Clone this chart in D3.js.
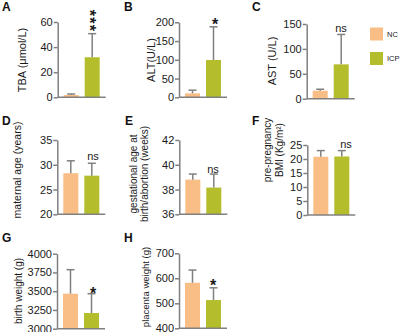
<html>
<head>
<meta charset="utf-8">
<script src="https://d3js.org/d3.v7.min.js"></script>
<style>
  body { margin: 0; background: #fff; }
  text { font-family: Arial, "Liberation Sans", sans-serif; }
</style>
</head>
<body>
<script>
// groups
var groups = ["NC", "ICP"];

// mean values (NC, ICP) and upper error bar ends
var tbaMean = [1.8, 31.9],    tbaErr = [2.6, 50.7];
var altMean = [10.6, 99.5],   altErr = [19, 188];
var astMean = [16, 69],       astErr = [19, 129];
var ageMean = [28.3, 27.8],   ageErr = [30.8, 30.3];
var gestMean = [38.8, 38.16], gestErr = [39.25, 39.25];
var bmiMean = [20.8, 20.9],   bmiErr = [23, 23];
var bwMean = [3467, 3209],    bwErr = [3787, 3467];
var pwMean = [582, 513],      pwErr = [633, 562];

// tick labels
var tbaTicks = [0, 20, 40, 60];
var altTicks = [0, 50, 100, 150, 200];
var astTicks = [0, 50, 100, 150];
var ageTicks = [20, 25, 30, 35];
var gestTicks = [36, 38, 40, 42];
var bmiTicks = [0, 5, 10, 15, 20, 25];
var bwTicks = [3000, 3250, 3500, 3750, 4000];
var pwTicks = [400, 500, 600, 700];

var colors = {NC: "#F9BE85", ICP: "#B4BE2C"};
var grey = "#808080";

var svg = d3.select("body").append("svg")
  .attr("width", 400).attr("height", 332);

// panel layout
var panels = [
  {letter: "A", lx: 2, ly: 11, ax: 57.7, top: 22, bottom: 97.3, mean: tbaMean, err: tbaErr, ticks: tbaTicks,
   label: ["TBA (μmol/L)"], labX: [26], labY: 60, labSize: 11,
   sig: {text: "***", x: 93, y: 21, vertical: true}},
  {letter: "B", lx: 124, ly: 11, ax: 179, top: 22.3, bottom: 97.3, mean: altMean, err: altErr, ticks: altTicks,
   label: ["ALT(U/L)"], labX: [155], labY: 60, labSize: 11,
   sig: {text: "*", x: 215, y: 30}},
  {letter: "C", lx: 252, ly: 11, ax: 306.7, top: 24, bottom: 98.7, mean: astMean, err: astErr, ticks: astTicks,
   label: ["AST (U/L)"], labX: [276], labY: 61, labSize: 11,
   sig: {text: "ns", x: 341, y: 32, ns: true}},
  {letter: "D", lx: 2, ly: 125, ax: 57.3, top: 140, bottom: 214.3, mean: ageMean, err: ageErr, ticks: ageTicks,
   label: ["maternal age (years)"], labX: [21], labY: 170, labSize: 10.5,
   sig: {text: "ns", x: 93, y: 160, ns: true}},
  {letter: "E", lx: 125, ly: 125, ax: 179.3, top: 140, bottom: 214.3, mean: gestMean, err: gestErr, ticks: gestTicks,
   label: ["gestational age at", "birth/abortion (weeks)"], labX: [137, 148], labY: 174, labSize: 10,
   sig: {text: "ns", x: 213, y: 173, ns: true}},
  {letter: "F", lx: 252, ly: 125, ax: 307.3, top: 145, bottom: 215, mean: bmiMean, err: bmiErr, ticks: bmiTicks,
   label: ["pre-pregnancy", "BMI (Kg/m²)"], labX: [271, 283], labY: 150, labSize: 10,
   sig: {text: "ns", x: 346, y: 148, ns: true}},
  {letter: "G", lx: 2, ly: 242, ax: 57, top: 253.7, bottom: 328.7, mean: bwMean, err: bwErr, ticks: bwTicks,
   label: ["birth weight (g)"], labX: [22], labY: 291, labSize: 10,
   sig: {text: "*", x: 93, y: 299}},
  {letter: "H", lx: 124, ly: 242, ax: 179, top: 253.3, bottom: 328.3, mean: pwMean, err: pwErr, ticks: pwTicks,
   label: ["placenta weight (g)"], labX: [149], labY: 287, labSize: 9.5,
   sig: {text: "*", x: 213, y: 291}}
];

panels.forEach(function(p) {
  var g = svg.append("g");
  var x = d3.scaleBand().domain(groups).range([p.ax, p.ax + 48])
    .paddingInner(2 / 7).paddingOuter(2 / 7);
  var y = d3.scaleLinear().domain([p.ticks[0], p.ticks[p.ticks.length - 1]])
    .range([p.bottom, p.top]);

  // bars
  g.selectAll("rect.bar").data(groups).enter().append("rect")
    .attr("x", function(d) { return x(d); })
    .attr("width", x.bandwidth())
    .attr("y", function(d, i) { return y(p.mean[i]); })
    .attr("height", function(d, i) { return y(p.ticks[0]) - y(p.mean[i]); })
    .attr("fill", function(d) { return colors[d]; });

  // upper error bars
  groups.forEach(function(d, i) {
    var cx = x(d) + x.bandwidth() / 2;
    g.append("line").attr("x1", cx).attr("x2", cx)
      .attr("y1", y(p.mean[i])).attr("y2", y(p.err[i]))
      .attr("stroke", grey).attr("stroke-width", 1.5);
    g.append("line").attr("x1", cx - 4).attr("x2", cx + 4)
      .attr("y1", y(p.err[i])).attr("y2", y(p.err[i]))
      .attr("stroke", grey).attr("stroke-width", 1.5);
  });

  // y axis
  var yAxis = d3.axisLeft(y).tickValues(p.ticks).tickFormat(d3.format("d"))
    .tickSize(4).tickSizeOuter(0).tickPadding(1);
  var ga = g.append("g").attr("transform", "translate(" + p.ax + ",0)").call(yAxis);
  ga.select(".domain").attr("stroke", grey).attr("stroke-width", 1.5);
  ga.selectAll(".tick line").attr("stroke", grey).attr("stroke-width", 1.5);
  ga.selectAll(".tick text").attr("fill", "#1a1a1a").style("font-size", "11px")
    .style("font-family", "Arial, 'Liberation Sans', sans-serif");

  // x baseline
  g.append("line").attr("x1", p.ax).attr("x2", p.ax + 48)
    .attr("y1", p.bottom).attr("y2", p.bottom)
    .attr("stroke", grey).attr("stroke-width", 1.5);

  // y label
  p.label.forEach(function(t, k) {
    g.append("text")
      .attr("transform", "translate(" + p.labX[k] + "," + p.labY + ") rotate(-90)")
      .attr("text-anchor", "middle")
      .style("font-size", p.labSize + "px")
      .attr("fill", "#1a1a1a")
      .text(t);
  });

  // panel letter
  svg.append("text").attr("x", p.lx).attr("y", p.ly)
    .style("font-size", "12px").style("font-weight", "bold")
    .attr("fill", "#111").text(p.letter);

  // significance marks
  var s = p.sig;
  if (s.vertical) {
    // stacked stars: one text turned on its side
    g.append("text")
      .attr("transform", "translate(" + (s.x - 9) + "," + s.y + ") rotate(90)")
      .attr("text-anchor", "middle")
      .style("font-size", "16px").style("font-weight", "bold")
      .style("letter-spacing", "1.3px")
      .attr("fill", "#1a1a1a")
      .text(s.text);
  } else {
    g.append("text").attr("x", s.x).attr("y", s.y)
      .attr("text-anchor", "middle")
      .style("font-size", s.ns ? "11px" : "16px")
      .style("font-weight", s.ns ? "normal" : "bold")
      .attr("fill", "#1a1a1a")
      .text(s.text);
  }
});

// legend
var legend = svg.append("g");
groups.forEach(function(d, i) {
  legend.append("rect").attr("x", 370).attr("y", 27.5 + i * 24.5)
    .attr("width", 13).attr("height", 13).attr("fill", colors[d]);
  legend.append("text").attr("x", 387).attr("y", 36.5 + i * 24.5)
    .style("font-size", "7.5px").attr("fill", "#1a1a1a").text(d);
});
</script>
</body>
</html>
